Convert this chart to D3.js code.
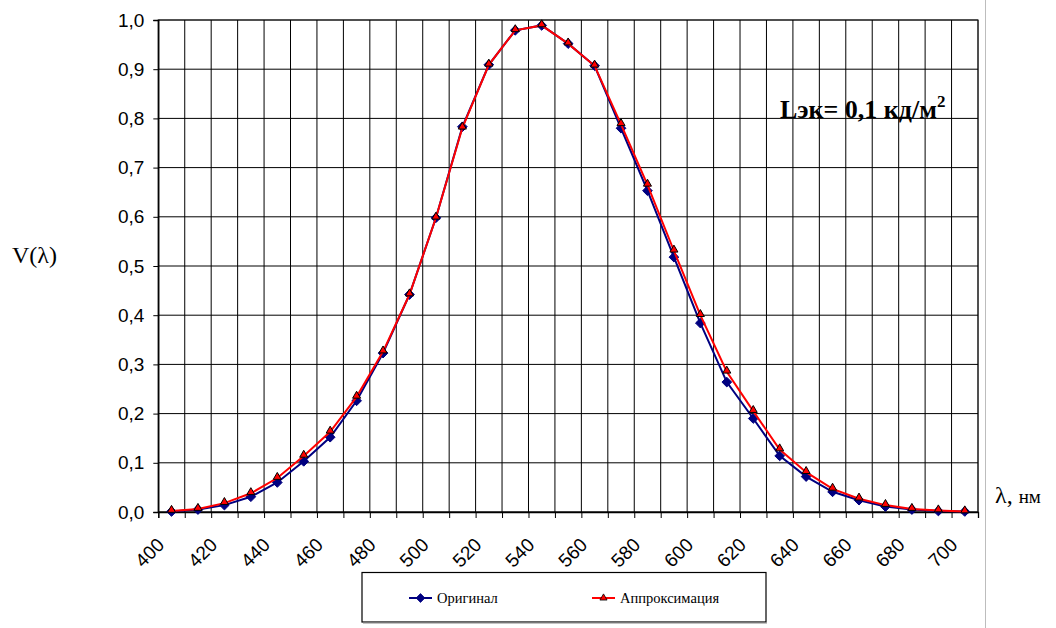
<!DOCTYPE html>
<html>
<head>
<meta charset="utf-8">
<script src="https://cdn.jsdelivr.net/npm/d3@7"></script>
<style>
  html, body { margin: 0; padding: 0; background: #fff; }
  svg { display: block; }
</style>
</head>
<body>
<svg id="chart" width="1056" height="628"></svg>
<script>
// Wavelengths, nm (one category each)
const wavelengths = [400, 410, 420, 430, 440, 450, 460, 470, 480, 490,
                     500, 510, 520, 530, 540, 550, 560, 570, 580, 590,
                     600, 610, 620, 630, 640, 650, 660, 670, 680, 690, 700];

// Relative spectral luminous efficiency V(λ), measured curve
const original = [0.001, 0.005, 0.014, 0.031, 0.060, 0.103, 0.152, 0.226, 0.323, 0.442,
                  0.598, 0.783, 0.909, 0.979, 0.989, 0.952, 0.907, 0.780, 0.653, 0.518,
                  0.384, 0.264, 0.190, 0.114, 0.072, 0.041, 0.024, 0.011, 0.005, 0.002, 0.001];

// Approximating curve
const approximation = [0.002, 0.006, 0.018, 0.038, 0.069, 0.114, 0.163, 0.234, 0.326, 0.442,
                       0.598, 0.781, 0.909, 0.979, 0.989, 0.952, 0.907, 0.788, 0.665, 0.531,
                       0.400, 0.285, 0.205, 0.127, 0.081, 0.047, 0.027, 0.014, 0.006, 0.003, 0.001];

const yTicks = [0, 0.1, 0.2, 0.3, 0.4, 0.5, 0.6, 0.7, 0.8, 0.9, 1.0];
const xLabels = [400, 420, 440, 460, 480, 500, 520, 540, 560, 580, 600, 620, 640, 660, 680, 700];

const seriesNames = ["Оригинал", "Аппроксимация"];

const svg = d3.select("#chart");
const plot = { left: 158.3, right: 978, top: 20, bottom: 512 };

const x = d3.scaleBand().domain(wavelengths).range([plot.left, plot.right]).padding(0);
const y = d3.scaleLinear().domain([0, 1]).range([plot.bottom, plot.top]);
const cx = d => x(d) + x.bandwidth() / 2;

// category boundaries (left edge of each band plus the right end)
const bounds = wavelengths.map(w => x(w)).concat([plot.right]);

const fmt = v => d3.format(".1f")(v).replace(".", ",");
const sans = "'Liberation Sans', Arial, sans-serif";
const serif = "'Liberation Serif', 'Times New Roman', serif";

// Outer frame line on the right
svg.append("line")
  .attr("x1", 985.5).attr("x2", 985.5).attr("y1", 0).attr("y2", 628)
  .attr("stroke", "#bdbdbd").attr("stroke-width", 1);

// Plot-area frame
svg.append("rect")
  .attr("x", plot.left).attr("y", plot.top)
  .attr("width", plot.right - plot.left).attr("height", plot.bottom - plot.top)
  .attr("fill", "none").attr("stroke", "#808080").attr("stroke-width", 1.5);

// Vertical grid lines
svg.append("g").selectAll("line").data(bounds).join("line")
  .attr("x1", d => d).attr("x2", d => d)
  .attr("y1", plot.top).attr("y2", plot.bottom)
  .attr("stroke", "#000").attr("stroke-width", 1);

// Horizontal grid lines
svg.append("g").selectAll("line").data(yTicks).join("line")
  .attr("x1", plot.left).attr("x2", plot.right)
  .attr("y1", d => y(d)).attr("y2", d => y(d))
  .attr("stroke", "#000").attr("stroke-width", 1);

// Y axis
const yAxis = d3.axisLeft(y).tickValues(yTicks).tickFormat(fmt).tickSize(5).tickPadding(9);
const gy = svg.append("g").attr("transform", `translate(${plot.left},0)`).call(yAxis);
gy.select(".domain").attr("stroke", "#000").attr("stroke-width", 1.3);
gy.selectAll(".tick line").attr("stroke", "#000");
gy.selectAll("text")
  .attr("font-family", sans)
  .attr("font-size", 19).attr("fill", "#000");

// X axis: tick marks on category boundaries
const xb = d3.scaleLinear().domain([0, wavelengths.length]).range([plot.left, plot.right]);
const gx = svg.append("g").attr("transform", `translate(0,${plot.bottom})`)
  .call(d3.axisBottom(xb).tickValues(d3.range(wavelengths.length + 1)).tickSize(6).tickFormat(""));
gx.select(".domain").attr("stroke", "#000").attr("stroke-width", 1.3);
gx.selectAll(".tick line").attr("stroke", "#000");

// X labels, rotated, at category centres
svg.append("g").selectAll("text").data(xLabels).join("text")
  .attr("transform", d => `translate(${cx(d) - 6},${plot.bottom + 34}) rotate(-45)`)
  .attr("text-anchor", "end")
  .attr("font-family", sans)
  .attr("font-size", 19).attr("fill", "#000")
  .text(d => d);

// Series lines and markers
const line = d3.line().x((d, i) => cx(wavelengths[i])).y(d => y(d));

const diamond = d3.symbol().type(d3.symbolDiamond2).size(60);
const triangle = d3.symbol().type(d3.symbolTriangle).size(28);

// Original (navy, diamonds)
svg.append("path").datum(original)
  .attr("d", line).attr("fill", "none")
  .attr("stroke", "#000080").attr("stroke-width", 2);
svg.append("g").selectAll("path").data(original).join("path")
  .attr("transform", (d, i) => `translate(${cx(wavelengths[i])},${y(d)})`)
  .attr("d", diamond).attr("fill", "#000080").attr("stroke", "#000080").attr("stroke-width", 1);

// Approximation (red, triangles)
svg.append("path").datum(approximation)
  .attr("d", line).attr("fill", "none")
  .attr("stroke", "#ff0000").attr("stroke-width", 2);
svg.append("g").selectAll("path").data(approximation).join("path")
  .attr("transform", (d, i) => `translate(${cx(wavelengths[i])},${y(d) - 1})`)
  .attr("d", triangle).attr("fill", "#ff0000").attr("stroke", "#000").attr("stroke-width", 1);

// Axis titles
svg.append("text")
  .attr("x", 12).attr("y", 263)
  .attr("font-family", serif)
  .attr("font-size", 24).attr("fill", "#000")
  .text("V(λ)");

const lt = svg.append("text")
  .attr("x", 995).attr("y", 503)
  .attr("font-family", serif)
  .attr("fill", "#000");
lt.append("tspan").attr("font-size", 24).text("λ, ");
lt.append("tspan").attr("font-size", 19).text("нм");

// Luminance annotation
const note = svg.append("text")
  .attr("x", 780).attr("y", 118)
  .attr("font-family", serif)
  .attr("font-weight", "bold").attr("font-size", 26).attr("fill", "#000");
note.append("tspan").text("Lэк= 0,1 кд/м");
note.append("tspan").attr("font-size", 17).attr("dy", -11).text("2");

// Legend
const legend = svg.append("g");
legend.append("rect")
  .attr("x", 362).attr("y", 572.5).attr("width", 404).attr("height", 49.5)
  .attr("fill", "#fff").attr("stroke", "#000").attr("stroke-width", 1.2);
legend.append("line")
  .attr("x1", 363).attr("x2", 767).attr("y1", 623).attr("y2", 623)
  .attr("stroke", "#888").attr("stroke-width", 1);

const items = [
  { name: seriesNames[0], color: "#000080", sym: d3.symbol().type(d3.symbolDiamond2).size(50), x0: 409, stroke: "#000080" },
  { name: seriesNames[1], color: "#ff0000", sym: d3.symbol().type(d3.symbolTriangle).size(22), x0: 592, stroke: "#000" }
];
items.forEach(it => {
  legend.append("line")
    .attr("x1", it.x0).attr("x2", it.x0 + 23).attr("y1", 598).attr("y2", 598)
    .attr("stroke", it.color).attr("stroke-width", 2);
  legend.append("path")
    .attr("transform", `translate(${it.x0 + 11.5},598)`)
    .attr("d", it.sym).attr("fill", it.color).attr("stroke", it.stroke).attr("stroke-width", 0.8);
  legend.append("text")
    .attr("x", it.x0 + 28).attr("y", 603)
    .attr("font-family", serif)
    .attr("font-size", 14.5).attr("fill", "#000")
    .text(it.name);
});
</script>
</body>
</html>
